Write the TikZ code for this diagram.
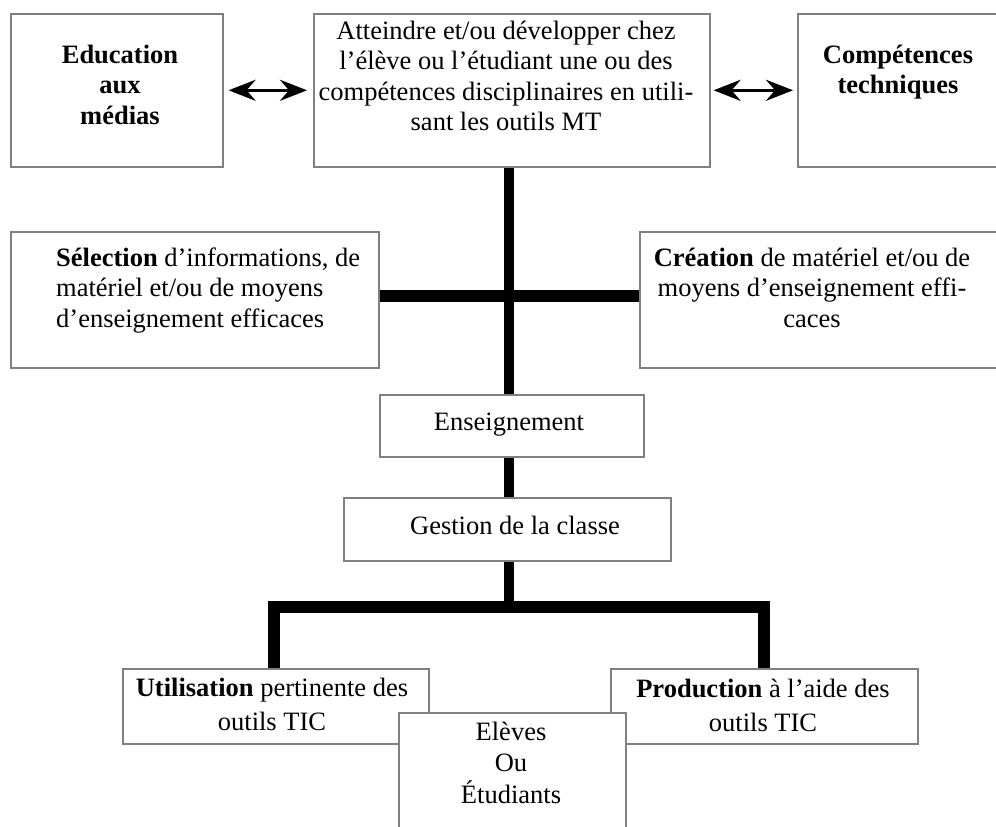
\documentclass[tikz,border=0pt]{standalone}
\usepackage{fontspec}
\setmainfont{Liberation Serif}
\usetikzlibrary{arrows.meta}
\definecolor{bordergray}{RGB}{128,128,128}
\begin{document}
\begin{tikzpicture}[x=1pt,y=-1pt,
  box/.style={draw=bordergray,line width=1.6pt,fill=white,inner sep=0pt,anchor=north west},
  txt/.style={inner sep=0pt,font=\fontsize{26.5}{30.5}\selectfont},
  bar/.style={line width=10pt,line cap=butt,line join=miter},
  hbar/.style={line width=11.5pt,line cap=butt,line join=miter},
  tipshape/.tip={Stealth[length=27pt 0 0,width=21pt 0,inset=9pt 0]},
  dbl/.style={line width=3.5pt,tipshape-tipshape}]
\useasboundingbox (0,0) rectangle (996,827);
\clip (0,0) rectangle (996,827);
% reference coordinates
\coordinate (spx) at (509,0);
\coordinate (hb) at (0,296);
\coordinate (lb) at (274,607);
\coordinate (rb) at (764,607);
% boxes
\node[box,minimum width=212pt,minimum height=153pt] (edu)  at (10,13) {};
\node[box,minimum width=396pt,minimum height=153pt] (goal) at (313,13) {};
\node[box,minimum width=215pt,minimum height=153pt] (tech) at (797,13) {};
\node[box,minimum width=368pt,minimum height=136pt] (sel)  at (10,231) {};
\node[box,minimum width=370pt,minimum height=136pt] (crea) at (639,231) {};
\node[box,minimum width=264pt,minimum height=62pt]  (ens)  at (379,394) {};
\node[box,minimum width=327pt,minimum height=63pt]  (gest) at (343,497) {};
% thick connectors
\draw[bar] (goal.south -| spx) -- (ens.north -| spx);
\draw[bar] (ens.south -| spx) -- (gest.north -| spx);
\draw[hbar] (sel.east |- hb) -- (crea.west |- hb);
\draw[bar] (gest.south -| spx) -- (spx |- lb);
\node[box,minimum width=306pt,minimum height=75pt]  (util) at (122,668) {};
\node[box,minimum width=307pt,minimum height=75pt]  (prod) at (610,668) {};
\draw[hbar] (util.north -| lb) -- (lb) -- (rb) -- (prod.north -| rb);
\node[box,minimum width=227pt,minimum height=140pt] (elv)  at (398,712) {};
% arrows
\draw[dbl,shorten <=5pt,shorten >=6pt] (edu.east) -- (goal.west);
\draw[dbl,shorten <=3pt,shorten >=4pt] (goal.east) -- (tech.west);
% texts
\node[txt,align=center,anchor=north] (tedu) at (120,41.65) {\strut\textbf{Education}\\\textbf{aux}\\\textbf{médias}};
\node[txt,align=center,anchor=north] (ttech) at (898,41.65) {\strut\textbf{Compétences}\\\textbf{techniques}};
\node[txt,align=center,anchor=north] (tgoal) at (506,17.65) {\strut Atteindre et/ou développer chez\\l’élève ou l’étudiant une ou des\\compétences disciplinaires en utili-\\sant les outils MT};
\node[txt,align=left,anchor=north west] (tsel) at (56,244.65) {\strut\textbf{Sélection} d’informations, de\\matériel et/ou de moyens\\d’enseignement efficaces};
\node[txt,align=center,anchor=north] (tcrea) at (812,244.65) {\strut\textbf{Création} de matériel et/ou de\\moyens d’enseignement effi-\\caces};
\node[txt,anchor=base] (tens) at (509,430.5) {Enseignement};
\node[txt,anchor=base] (tgest) at (515,534) {Gestion de la classe};
\node[txt,align=center,anchor=north,font=\fontsize{26.5}{34}\selectfont] (tutil) at (272,672.2) {\strut\textbf{Utilisation} pertinente des\\outils TIC};
\node[txt,align=center,anchor=north,font=\fontsize{26.5}{34}\selectfont] (tprod) at (763,673.2) {\strut\textbf{Production} à l’aide des\\outils TIC};
\node[txt,align=center,anchor=north,font=\fontsize{26.5}{31.5}\selectfont] (telv) at (511,717.95) {\strut Elèves\\Ou\\Étudiants};
\end{tikzpicture}
\end{document}
